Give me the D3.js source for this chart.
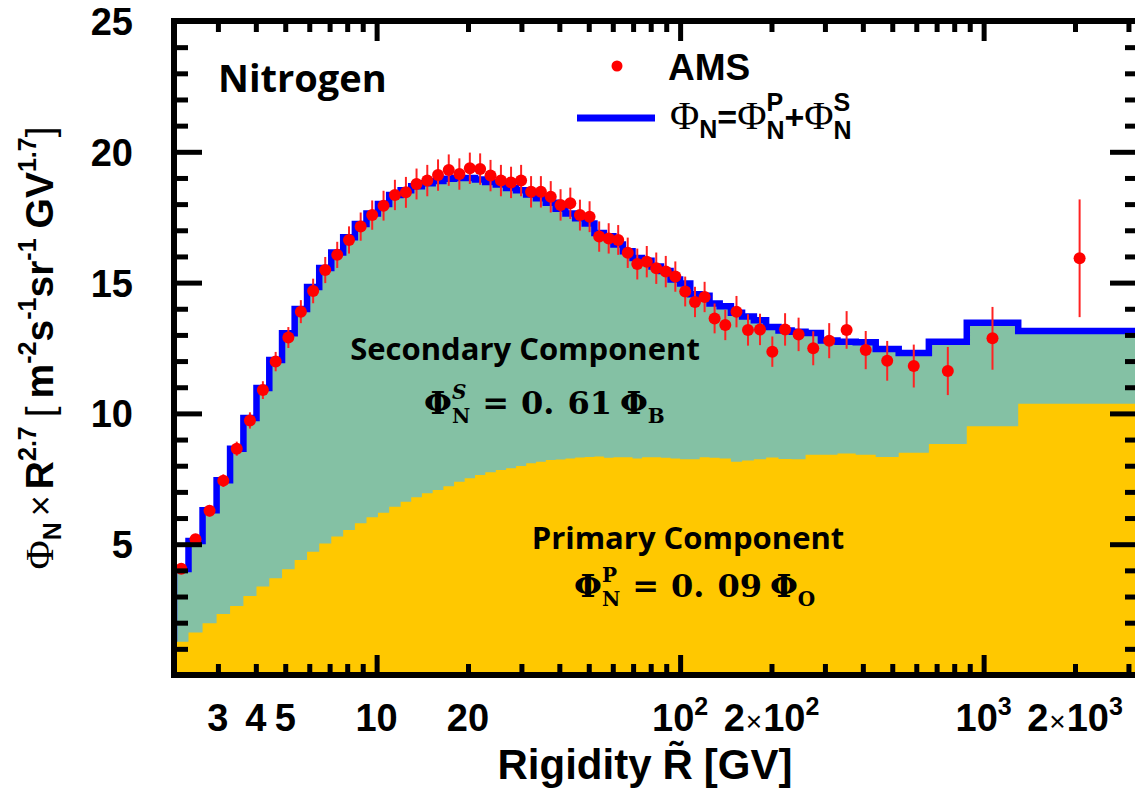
<!DOCTYPE html>
<html><head><meta charset="utf-8">
<script src="https://cdn.jsdelivr.net/npm/d3@7"></script>
<style>
html,body{margin:0;padding:0;background:#fff;}
svg{display:block;}
</style></head><body>
<svg id="c" width="1135" height="789"></svg>
<script>
// ---------------- data ----------------
const binEdges = [2.15, 2.40, 2.67, 2.97, 3.29, 3.64, 4.02, 4.43, 4.88, 5.37, 5.90, 6.47, 7.09, 7.76, 8.48, 9.26, 10.1, 11.0, 12.0, 13.0, 14.1, 15.3, 16.6, 18.0, 19.5, 21.1, 22.8, 24.7, 26.7, 28.8, 31.1, 33.5, 36.1, 38.9, 41.9, 45.1, 48.5, 52.2, 56.1, 60.3, 64.8, 69.7, 74.9, 80.5, 86.5, 93.0, 100, 108, 116, 125, 135, 147, 160, 175, 192, 211, 233, 259, 291, 330, 379, 441, 525, 660, 880, 1300, 3300];

const amsValues = [4.06, 5.19, 6.28, 7.43, 8.65, 9.73, 10.89, 11.98, 12.90, 13.89, 14.68, 15.48, 16.06, 16.63, 17.14, 17.58, 17.94, 18.35, 18.45, 18.77, 18.90, 19.11, 19.30, 19.15, 19.37, 19.34, 19.09, 18.90, 18.83, 18.90, 18.47, 18.47, 18.28, 17.97, 18.03, 17.58, 17.52, 16.76, 16.69, 16.63, 16.14, 15.71, 15.80, 15.55, 15.42, 15.23, 14.66, 14.26, 14.45, 13.63, 13.38, 13.89, 13.19, 13.21, 12.36, 13.21, 13.02, 12.49, 12.78, 13.19, 12.42, 12.01, 11.81, 11.62, 12.87, 15.93];

const amsErrors = [0.18, 0.20, 0.22, 0.24, 0.27, 0.31, 0.34, 0.37, 0.40, 0.44, 0.47, 0.50, 0.50, 0.52, 0.54, 0.56, 0.57, 0.58, 0.59, 0.59, 0.60, 0.60, 0.60, 0.60, 0.60, 0.60, 0.60, 0.60, 0.60, 0.60, 0.60, 0.60, 0.60, 0.60, 0.60, 0.59, 0.59, 0.58, 0.58, 0.57, 0.58, 0.59, 0.60, 0.60, 0.60, 0.58, 0.57, 0.58, 0.58, 0.57, 0.58, 0.60, 0.60, 0.60, 0.58, 0.62, 0.64, 0.65, 0.67, 0.72, 0.73, 0.76, 0.82, 0.92, 1.20, 2.25];

const totalModel = [4.05, 5.12, 6.30, 7.44, 8.65, 9.82, 10.97, 12.04, 13.06, 13.99, 14.83, 15.56, 16.15, 16.73, 17.24, 17.64, 18.00, 18.35, 18.53, 18.68, 18.80, 18.88, 18.97, 19.00, 19.00, 18.94, 18.85, 18.75, 18.62, 18.53, 18.37, 18.22, 18.05, 17.82, 17.64, 17.46, 17.26, 16.90, 16.77, 16.46, 16.20, 15.94, 15.84, 15.62, 15.44, 15.12, 14.97, 14.55, 14.50, 14.20, 14.10, 13.85, 13.70, 13.56, 13.30, 13.17, 13.12, 13.07, 12.79, 12.74, 12.72, 12.46, 12.31, 12.74, 13.47, 13.15];

const primaryModel = [1.27, 1.62, 1.98, 2.33, 2.64, 3.02, 3.38, 3.70, 4.04, 4.40, 4.71, 5.03, 5.29, 5.54, 5.80, 6.03, 6.20, 6.43, 6.62, 6.79, 6.95, 7.07, 7.22, 7.39, 7.52, 7.65, 7.75, 7.84, 7.90, 7.99, 8.09, 8.15, 8.22, 8.24, 8.28, 8.31, 8.33, 8.35, 8.30, 8.32, 8.32, 8.28, 8.32, 8.32, 8.30, 8.28, 8.25, 8.25, 8.32, 8.30, 8.28, 8.15, 8.20, 8.25, 8.31, 8.26, 8.25, 8.42, 8.42, 8.47, 8.42, 8.33, 8.50, 8.83, 9.51, 10.37];

const xTickValues = [3, 4, 5, 10, 20, 100, 200, 1000, 2000];
const xTickLabels = ["3", "4", "5", "10", "20", "10^2", "2×10^2", "10^3", "2×10^3"];
const yTickValues = [5, 10, 15, 20, 25];
const yTickLabels = ["5", "10", "15", "20", "25"];

// ---------------- setup ----------------
const SANS = "'Liberation Sans', Arial, Helvetica, sans-serif";
const SERIF = "'Liberation Serif', 'Times New Roman', serif";
const OPEN = "'Open Sans', sans-serif";
const MATHF = "'DejaVu Serif', serif";
const GREEN = "#84c1a4", YELLOW = "#ffc800", BLUE = "#0000ff", RED = "#ff0000";

const svg = d3.select("#c");
const L = 174, R = 1141, T = 21, B = 675;
const x = d3.scaleLog().domain([2.15, 3300]).range([L, R]);
const y = d3.scaleLinear().domain([0, 25]).range([B, T]);

svg.append("defs").append("clipPath").attr("id", "plotclip")
  .append("rect").attr("x", L).attr("y", T).attr("width", R - L).attr("height", B - T);

function stepPoints(vals) {
  const pts = [];
  vals.forEach((v, i) => { pts.push([binEdges[i], v]); pts.push([binEdges[i + 1], v]); });
  return pts;
}
const plot = svg.append("g").attr("clip-path", "url(#plotclip)");

const area = d3.area().x(d => x(d[0])).y0(y(0)).y1(d => y(d[1]));
plot.append("path").attr("d", area(stepPoints(totalModel))).attr("fill", GREEN);

const line = d3.line().x(d => x(d[0])).y(d => y(d[1]));
const bluePts = [[binEdges[0], 0]].concat(stepPoints(totalModel));
plot.append("path").attr("d", line(bluePts)).attr("fill", "none")
  .attr("stroke", BLUE).attr("stroke-width", 6.5).attr("stroke-linejoin", "miter");

plot.append("path").attr("d", area(stepPoints(primaryModel))).attr("fill", YELLOW);

// data points
const pts = amsValues.map((v, i) => ({ r: Math.sqrt(binEdges[i] * binEdges[i + 1]), v, e: amsErrors[i] }));
plot.selectAll("line.err").data(pts).enter().append("line")
  .attr("x1", d => x(d.r)).attr("x2", d => x(d.r))
  .attr("y1", d => y(d.v - d.e)).attr("y2", d => y(d.v + d.e))
  .attr("stroke", "#f22").attr("stroke-width", 2);
plot.selectAll("circle.pt").data(pts).enter().append("circle")
  .attr("cx", d => x(d.r)).attr("cy", d => y(d.v)).attr("r", 6).attr("fill", RED);

// ---------------- axes (ROOT style, inward ticks) ----------------
const xAll = x.ticks().filter(v => v >= 2.15 && v <= 3300);
const isDecade = v => Math.abs(Math.log10(v) - Math.round(Math.log10(v))) < 1e-9;
const xMinor = xAll.filter(v => !isDecade(v));
const xMajor = xAll.filter(v => isDecade(v));
const yAll = d3.range(1, 25);
const yMinor = yAll.filter(v => v % 5 !== 0);
const yMajor = yAll.filter(v => v % 5 === 0);

function tickAxis(axis, vals, size, tr) {
  const g = svg.append("g").attr("transform", tr)
    .call(axis.tickValues(vals).tickSize(size).tickSizeOuter(0).tickFormat(""));
  g.select(".domain").remove();
  g.selectAll(".tick line").attr("stroke", "#000").attr("stroke-width", 5);
  g.selectAll(".tick text").remove();
}
tickAxis(d3.axisBottom(x), xMinor, -11, `translate(0,${B})`);
tickAxis(d3.axisBottom(x), xMajor, -20, `translate(0,${B})`);
tickAxis(d3.axisTop(x), xMinor, -11, `translate(0,${T})`);
tickAxis(d3.axisTop(x), xMajor, -20, `translate(0,${T})`);
tickAxis(d3.axisLeft(y), yMinor, -14, `translate(${L},0)`);
tickAxis(d3.axisLeft(y), yMajor, -28, `translate(${L},0)`);
tickAxis(d3.axisRight(y), yMinor, -16, `translate(${R},0)`);
tickAxis(d3.axisRight(y), yMajor, -31, `translate(${R},0)`);

svg.append("rect").attr("x", L).attr("y", T).attr("width", R - L).attr("height", B - T)
  .attr("fill", "none").attr("stroke", "#000").attr("stroke-width", 6);

// ---------------- text layout helper ----------------
function addText(g, cx, p) {
  const t = g.append("text").attr("x", cx).attr("y", p.dy || 0)
    .attr("font-family", p.f || SANS).attr("font-size", p.s || 38)
    .attr("font-weight", p.w || "bold").attr("font-style", p.st || "normal")
    .attr("fill", p.fill || "#000").text(p.t);
  return t;
}
function layout(parent, x0, y0, pieces, anchor, rotate) {
  const g = parent.append("g");
  const inner = g.append("g");
  let cx = 0;
  pieces.forEach(p => {
    if (p.stack) {
      let wmax = 0;
      p.stack.forEach(q => { const el = addText(inner, cx, q); wmax = Math.max(wmax, el.node().getComputedTextLength()); });
      cx += wmax + (p.gap || 0);
    } else {
      const el = addText(inner, cx, p);
      cx += el.node().getComputedTextLength() + (p.gap || 0);
    }
  });
  const shift = anchor === "middle" ? -cx / 2 : anchor === "end" ? -cx : 0;
  inner.attr("transform", `translate(${shift},0)`);
  g.attr("transform", `translate(${x0},${y0})` + (rotate ? ` rotate(${rotate})` : ""));
  return { g, width: cx, shift };
}

// y tick labels
yTickValues.forEach((v, i) => {
  svg.append("text").attr("x", 133).attr("y", y(v) + 14).attr("text-anchor", "end")
    .attr("font-family", SANS).attr("font-size", 38).attr("font-weight", "bold").text(yTickLabels[i]);
});

// x tick labels
xTickValues.forEach((v, i) => {
  const lab = xTickLabels[i];
  let pieces = [];
  let base = lab, exp = null;
  if (lab.includes("^")) { [base, exp] = lab.split("^"); }
  if (base.includes("×")) {
    const [a, b] = base.split("×");
    pieces.push({ t: a, s: 38, gap: 1 });
    pieces.push({ t: "×", s: 28, w: "normal", gap: 1 });
    pieces.push({ t: b, s: 38 });
  } else pieces.push({ t: base, s: 38 });
  if (exp) pieces.push({ t: exp, s: 25, dy: -16 });
  layout(svg, x(v), 731, pieces, "middle");
});

// x axis title (R with combining tilde)
layout(svg, 645, 779, [
  { t: "Rigidity", s: 42, gap: 11 },
  { t: "R\u0303", s: 42, gap: 11 },
  { t: "[GV]", s: 42 }
], "middle");

// y axis title (rotated)
layout(svg, 53, 348, [
  { t: "Φ", f: SERIF, s: 40, w: "normal" },
  { t: "N", s: 25, dy: 8, gap: 6 },
  { t: "×", s: 36, w: "normal", gap: 6 },
  { t: "R", s: 39 },
  { t: "2.7", s: 25, dy: -17, gap: 9 },
  { t: "[", s: 39, w: "normal", gap: 8 },
  { t: "m", s: 39 },
  { t: "-2", s: 25, dy: -17 },
  { t: "s", s: 39 },
  { t: "-1", s: 25, dy: -17 },
  { t: "sr", s: 39 },
  { t: "-1", s: 25, dy: -17, gap: 10 },
  { t: "GV", s: 39 },
  { t: "1.7", s: 25, dy: -17 },
  { t: "]", s: 39, w: "normal" }
], "middle", -90);

// ---------------- annotations ----------------
svg.append("text").attr("x", 218).attr("y", 92).attr("font-family", OPEN).attr("font-size", 38)
  .attr("font-weight", "bold").text("Nitrogen");

svg.append("text").attr("x", 525).attr("y", 360).attr("text-anchor", "middle").attr("font-family", OPEN)
  .attr("font-size", 31).attr("font-weight", "bold").text("Secondary Component");
svg.append("text").attr("x", 688).attr("y", 549).attr("text-anchor", "middle").attr("font-family", OPEN)
  .attr("font-size", 31).attr("font-weight", "bold").text("Primary Component");

function formula(x0, y0, supLetter, supItalic, num, bottomLetter) {
  layout(svg, x0, y0, [
    { t: "Φ", f: MATHF, s: 32 },
    { stack: [{ t: supLetter, f: MATHF, s: 20, dy: -15, st: supItalic ? "italic" : "normal" },
              { t: "N", f: MATHF, s: 20, dy: 9 }], gap: 12 },
    { t: "=", f: MATHF, s: 32, gap: 12 },
    { t: "0.", f: MATHF, s: 32, gap: 13 },
    { t: num, f: MATHF, s: 32, gap: 8 },
    { t: "Φ", f: MATHF, s: 32 },
    { t: bottomLetter, f: MATHF, s: 20, dy: 9 }
  ], "start");
}
formula(424, 414, "S", true, "61", "B");
formula(574, 597, "P", false, "09", "O");

// ---------------- legend ----------------
svg.append("circle").attr("cx", 617).attr("cy", 66).attr("r", 5.5).attr("fill", RED);
svg.append("text").attr("x", 668).attr("y", 80).attr("font-family", SANS).attr("font-size", 37)
  .attr("font-weight", "bold").text("AMS");
svg.append("line").attr("x1", 577).attr("x2", 655).attr("y1", 118).attr("y2", 118)
  .attr("stroke", BLUE).attr("stroke-width", 7);
layout(svg, 670, 129, [
  { t: "Φ", f: SERIF, s: 40, w: "normal" },
  { t: "N", s: 25, dy: 9 },
  { t: "=", s: 34 },
  { t: "Φ", f: SERIF, s: 40, w: "normal" },
  { stack: [{ t: "P", s: 25, dy: -18 }, { t: "N", s: 25, dy: 10 }] },
  { t: "+", s: 34 },
  { t: "Φ", f: SERIF, s: 40, w: "normal" },
  { stack: [{ t: "S", s: 25, dy: -18 }, { t: "N", s: 25, dy: 10 }] }
], "start");
</script>
</body></html>
